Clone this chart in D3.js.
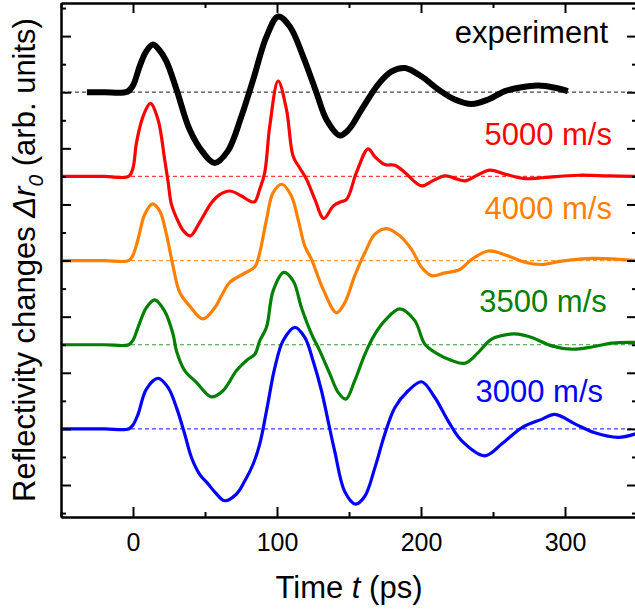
<!DOCTYPE html>
<html><head><meta charset="utf-8">
<script src="https://cdn.jsdelivr.net/npm/d3@7"></script>
<style>body{margin:0;background:#fff}text{font-family:"Liberation Sans",Arial,Helvetica,sans-serif}</style>
</head><body><svg id="c" width="635" height="612"></svg>
<script>
// ---- data (time in ps, signal in arb. units relative to each trace's baseline) ----
const seriesNames = ["experiment", "5000 m/s", "4000 m/s", "3500 m/s", "3000 m/s"];
const seriesOffsets = [7, 5.5, 4, 2.5, 1];

const expData = [[-32,0],[-20,0],[-4,0.01],[0,0.12],[4.6,0.46],[9,0.72],[13.9,0.85],[18,0.76],[23.2,0.55],[30.2,0.05],[39.4,-0.67],[48.5,-1.07],[56.8,-1.26],[65.8,-1.05],[75.3,-0.43],[83.4,0.22],[92.7,0.99],[100.8,1.35],[108.9,1.17],[118.1,0.64],[127.4,-0.01],[134.4,-0.49],[143.6,-0.77],[150,-0.66],[158.7,-0.31],[170.3,0.14],[179.6,0.37],[188.8,0.43],[200.4,0.28],[212,0.05],[223.5,-0.13],[235.2,-0.21],[246.7,-0.13],[258.3,0.02],[269.9,0.09],[281.4,0.12],[293,0.08],[302,0.02]];

const v5000Data = [[-50,0],[-20,0],[-3,0],[0,0.15],[2.4,0.6],[7,1.07],[12.1,1.3],[17.4,1.01],[22,0.3],[24.5,-0.12],[26.7,-0.5],[31.3,-0.8],[35,-0.97],[39.9,-1.06],[46.3,-0.82],[54.5,-0.47],[60,-0.33],[67.2,-0.26],[75.3,-0.35],[82,-0.45],[84.6,-0.45],[88,-0.23],[91.5,0.07],[95,0.9],[100.8,1.7],[106.6,1.19],[111.2,0.36],[115.8,0.15],[120.5,-0.05],[126.3,-0.41],[132.5,-0.75],[139,-0.53],[143.6,-0.46],[148.3,-0.41],[155.2,0.07],[163.3,0.49],[168,0.35],[174.9,0.21],[181.9,0.2],[188.8,0.07],[200.4,-0.17],[208,-0.08],[216.6,0.01],[223,-0.03],[230.5,-0.08],[239,0.02],[247.9,0.11],[258.3,0.04],[272.2,-0.04],[286.1,-0.02],[309.2,0.02],[330,0.01],[350,0]];

const v4000Data = [[-50,0],[-20,0],[-3,0],[0,0.1],[3.5,0.38],[8.1,0.82],[13.5,1.01],[18.6,0.88],[23.2,0.47],[27.8,-0.1],[32.5,-0.57],[39.4,-0.81],[48.6,-1.04],[56.8,-0.84],[62,-0.6],[67.2,-0.39],[76.4,-0.24],[84.6,-0.11],[88,0.14],[92.7,0.73],[97.3,1.21],[103.5,1.36],[110,1.15],[114.7,0.73],[119.3,0.26],[124,0.02],[132,-0.51],[141.3,-0.93],[147.1,-0.75],[154,-0.27],[161,0.14],[168,0.47],[176.1,0.57],[185.3,0.44],[193.4,0.2],[200.4,-0.12],[207.4,-0.27],[216.6,-0.22],[227,-0.16],[235.2,0.02],[246.7,0.17],[260.6,0.08],[272.2,-0.03],[283.8,-0.07],[297.7,-0.01],[318.6,0.04],[350,0]];

const v3500Data = [[-50,0],[-20,0],[-3,0],[0,0.08],[3.5,0.31],[9.3,0.66],[15.1,0.8],[22,0.6],[27.8,0.19],[30.2,-0.11],[35.9,-0.46],[44,-0.67],[54.5,-0.93],[62.5,-0.82],[71.9,-0.46],[78.8,-0.28],[84.6,-0.17],[88,0.07],[92.7,0.31],[97.3,0.96],[104.7,1.29],[111.2,1.14],[117,0.66],[124,0.19],[129.7,-0.11],[136.7,-0.52],[142.5,-0.85],[147.8,-0.97],[154,-0.64],[161,-0.17],[168,0.19],[174.9,0.43],[185.3,0.64],[195.7,0.43],[202.7,0.01],[212,-0.17],[221.3,-0.28],[230.5,-0.33],[239.7,-0.14],[249,0.1],[261.8,0.19],[267.5,0.19],[276.9,0.13],[290.8,-0.02],[304.7,-0.08],[318.6,-0.04],[332.5,0.03],[350,0.04]];

const v3000Data = [[-50,0],[-20,0],[-3,0],[0,0.07],[3.5,0.26],[9.3,0.71],[17.4,0.9],[24.3,0.74],[30.2,0.38],[35.9,-0.09],[40.6,-0.51],[46.3,-0.81],[52.1,-0.98],[57,-1.13],[63.7,-1.28],[71.9,-1.16],[77.6,-0.93],[83.4,-0.63],[88,-0.27],[92.7,0.32],[98.5,1.09],[104.2,1.57],[112.4,1.81],[119.3,1.63],[125.1,1.21],[130.9,0.68],[135.5,0.14],[140.1,-0.4],[147.1,-1.12],[154.5,-1.34],[161,-1.2],[168,-0.69],[174.9,-0.09],[181.9,0.38],[191.1,0.68],[200.4,0.84],[209.6,0.56],[218.9,0.14],[228.2,-0.21],[244.4,-0.48],[256,-0.27],[269.9,0.02],[283.8,0.17],[293,0.26],[306.9,0.09],[320.8,-0.07],[337,-0.15],[350,-0.08]];

const xMajorTicks = [0, 100, 200, 300];
const xMinorTicks = [-50, 50, 150, 250, 350];
const yMajorTicks = [0, 1, 2, 3, 4, 5, 6, 7, 8];
const yMinorTicks = [-0.5, 0.5, 1.5, 2.5, 3.5, 4.5, 5.5, 6.5, 7.5, 8.5];

// ---- drawing ----
const allData = [expData, v5000Data, v4000Data, v3500Data, v3000Data];
const colors = ["#000000", "#ff0000", "#ff8000", "#008000", "#0000ff"];
const dashColors = ["#444444", "#ff4040", "#ff9a30", "#30a030", "#4040ff"];
const widths = [6, 3.2, 3.2, 3.2, 3.2];

const svg = d3.select("#c");
svg.append("rect").attr("width", 635).attr("height", 612).attr("fill", "#fff");
const L = 61, T = 3, R = 637, B = 517;
const x = d3.scaleLinear().domain([-50, 350]).range([L, R]);
const y = d3.scaleLinear().domain([-0.57, 8.59]).range([B, T]);

svg.append("clipPath").attr("id", "clip").append("rect")
  .attr("x", L).attr("y", T).attr("width", R - L).attr("height", B - T);
const plot = svg.append("g").attr("clip-path", "url(#clip)");

seriesOffsets.forEach((off, i) => {
  plot.append("line")
    .attr("x1", x(-50)).attr("x2", x(350))
    .attr("y1", y(off)).attr("y2", y(off))
    .attr("stroke", dashColors[i]).attr("stroke-width", 1.2)
    .attr("stroke-dasharray", "4,3");
});

allData.forEach((data, i) => {
  const off = seriesOffsets[i];
  const line = d3.line()
    .x(d => x(d[0])).y(d => y(d[1] + off))
    .curve(d3.curveCatmullRom.alpha(0.5));
  plot.append("path").datum(data)
    .attr("d", line)
    .attr("fill", "none")
    .attr("stroke", colors[i])
    .attr("stroke-width", widths[i])
    .attr("stroke-linejoin", "round");
});

// axes
function styleAxis(g) {
  g.selectAll(".domain").attr("stroke", "#000").attr("stroke-width", 2);
  g.selectAll(".tick line").attr("stroke", "#000").attr("stroke-width", 2);
  g.selectAll("text").style("font-size", "25px").attr("fill", "#000")
    .style("font-family", '"Liberation Sans", Arial, sans-serif');
}
const fmt = d3.format("d");
svg.append("g").attr("transform", `translate(0,${B})`)
  .call(d3.axisBottom(x).tickValues(xMajorTicks).tickSizeInner(-10).tickSizeOuter(0).tickPadding(16).tickFormat(fmt))
  .call(styleAxis);
svg.append("g").attr("transform", `translate(0,${B})`)
  .call(d3.axisBottom(x).tickValues(xMinorTicks).tickSizeInner(-5).tickSizeOuter(0).tickFormat(""))
  .call(styleAxis);
svg.append("g").attr("transform", `translate(0,${T})`)
  .call(d3.axisTop(x).tickValues(xMajorTicks).tickSizeInner(-10).tickSizeOuter(0).tickFormat(""))
  .call(styleAxis);
svg.append("g").attr("transform", `translate(0,${T})`)
  .call(d3.axisTop(x).tickValues(xMinorTicks).tickSizeInner(-5).tickSizeOuter(0).tickFormat(""))
  .call(styleAxis);
svg.append("g").attr("transform", `translate(${L},0)`)
  .call(d3.axisLeft(y).tickValues(yMajorTicks).tickSizeInner(-10).tickSizeOuter(0).tickFormat(""))
  .call(styleAxis);
svg.append("g").attr("transform", `translate(${L},0)`)
  .call(d3.axisLeft(y).tickValues(yMinorTicks).tickSizeInner(-5).tickSizeOuter(0).tickFormat(""))
  .call(styleAxis);
svg.append("g").attr("transform", `translate(${R},0)`)
  .call(d3.axisRight(y).tickValues(yMajorTicks).tickSizeInner(-10).tickSizeOuter(0).tickFormat(""))
  .call(styleAxis);
svg.append("g").attr("transform", `translate(${R},0)`)
  .call(d3.axisRight(y).tickValues(yMinorTicks).tickSizeInner(-5).tickSizeOuter(0).tickFormat(""))
  .call(styleAxis);

// axis titles
const xt = svg.append("text").attr("x", (L + R) / 2).attr("y", 598)
  .attr("text-anchor", "middle").style("font-size", "31px").attr("fill", "#000");
xt.append("tspan").text("Time ");
xt.append("tspan").style("font-style", "italic").text("t");
xt.append("tspan").text(" (ps)");

const yt = svg.append("text")
  .attr("transform", `translate(35,${(T + B) / 2}) rotate(-90)`)
  .attr("text-anchor", "middle").style("font-size", "31px").attr("fill", "#000");
yt.append("tspan").text("Reflectivity changes ");
yt.append("tspan").style("font-style", "italic").text("Δr");
yt.append("tspan").style("font-style", "italic").style("font-size", "21px").attr("dy", "8").text("0");
yt.append("tspan").attr("dy", "-8").text(" (arb. units)");

// series labels (positioned in data coordinates)
const labelPos = [[329.9, 7.87], [332.6, 6.06], [332.6, 4.74], [329, 3.08], [326.4, 1.48]];
seriesNames.forEach((name, i) => {
  svg.append("text")
    .attr("x", x(labelPos[i][0])).attr("y", y(labelPos[i][1]))
    .attr("text-anchor", "end").style("font-size", "31px")
    .attr("fill", colors[i]).text(name);
});
</script></body></html>
